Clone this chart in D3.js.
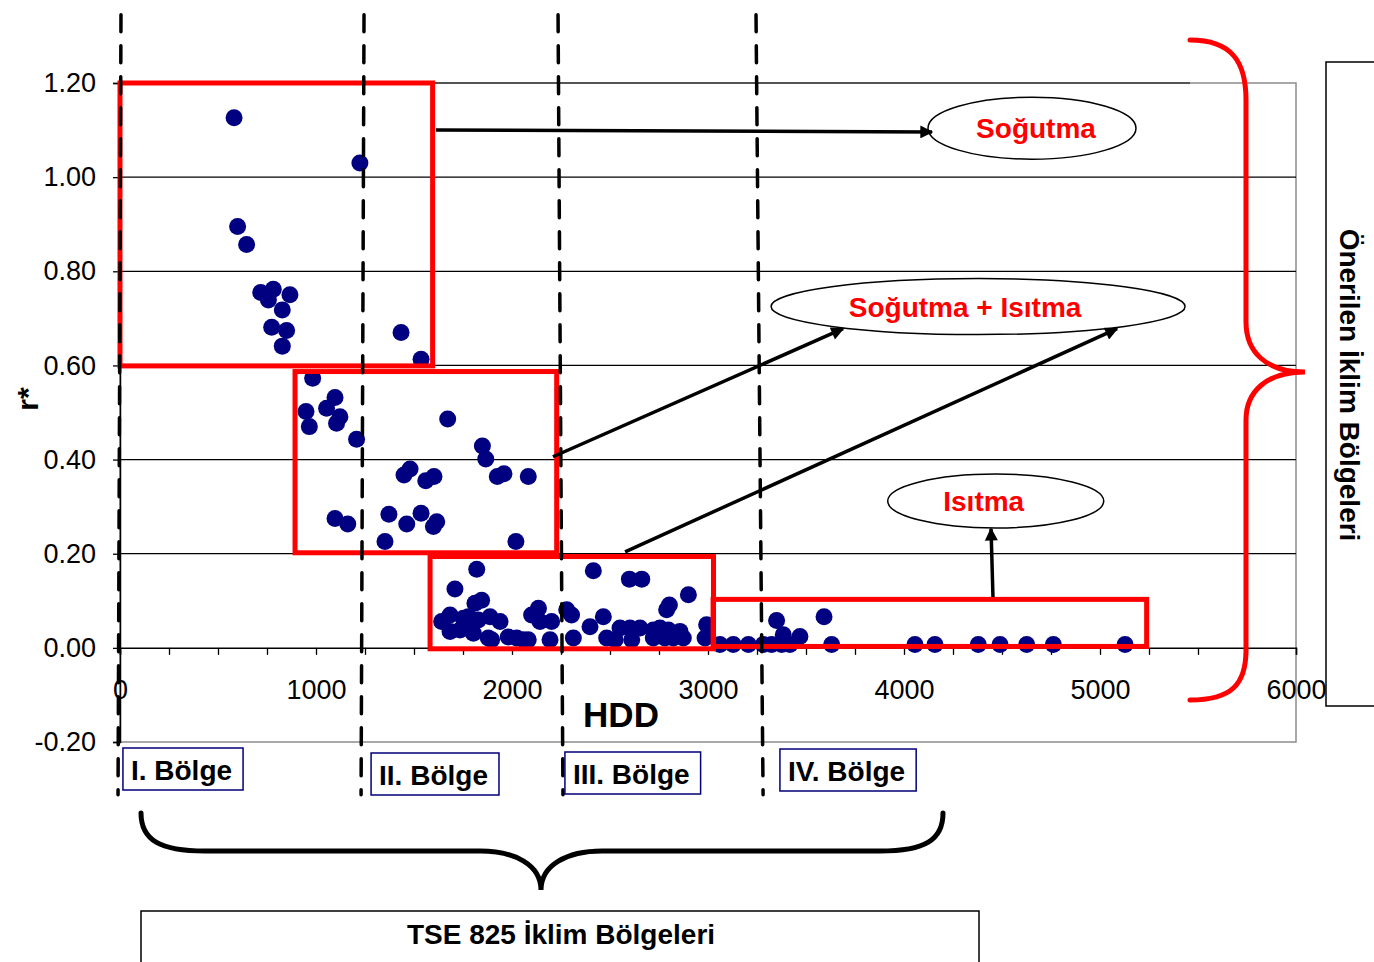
<!DOCTYPE html>
<html>
<head>
<meta charset="utf-8">
<script src="https://cdn.jsdelivr.net/npm/d3@7"></script>
<style>
  body { margin: 0; background: #fff; }
  svg { display: block; font-family: "Liberation Sans", Arial, sans-serif; }
</style>
</head>
<body>
<div id="chart"></div>
<script>
// ---- data (HDD, r*) ----
const hdd = [
  582, 1224, 600, 646, 718, 782, 757, 867, 828, 774, 850, 828, 1434, 1536,
  983, 1097, 949, 1054, 1122, 966, 1105, 1207, 1672, 1849, 1866, 1480, 1449, 1602, 1560, 1959, 1925, 2083,
  1097, 1162, 1372, 1463, 1536, 1616, 1599, 1352, 2020,
  1820, 1709, 2415, 2599, 2662, 2900, 2803, 2789, 1845, 1811,
  1684, 1641, 1684, 1752, 1786, 1828, 1888, 1939, 1879, 1981, 2058, 2100, 2135, 2143, 2202, 2194,
  2279, 2304, 2313, 2398, 2466, 2526, 2551, 2602, 2653, 2611, 2721, 2755, 2798, 2823, 2874, 2857, 2993, 2985,
  1777, 1803, 1735, 1896, 2024, 2083, 2483, 2721, 2780,
  3350, 3592, 3384, 3469,
  3061, 3129, 3206, 3282, 3325, 3376, 3418, 3631, 4056, 4158, 4379, 4490, 4626, 4762, 5128
];
const rStar = [
  1.126, 1.030, 0.895, 0.857, 0.755, 0.762, 0.739, 0.750, 0.718, 0.681, 0.674, 0.641, 0.670, 0.613,
  0.573, 0.532, 0.502, 0.509, 0.491, 0.470, 0.477, 0.443, 0.486, 0.429, 0.401, 0.380, 0.367, 0.364, 0.355, 0.370, 0.364, 0.364,
  0.275, 0.263, 0.284, 0.263, 0.286, 0.268, 0.258, 0.226, 0.226,
  0.167, 0.125, 0.164, 0.146, 0.146, 0.113, 0.091, 0.081, 0.101, 0.095,
  0.070, 0.056, 0.035, 0.063, 0.042, 0.059, 0.066, 0.056, 0.021, 0.023, 0.017, 0.070, 0.084, 0.056, 0.056, 0.017,
  0.081, 0.070, 0.021, 0.045, 0.066, 0.017, 0.042, 0.042, 0.042, 0.017, 0.038, 0.042, 0.038, 0.021, 0.021, 0.035, 0.049, 0.021,
  0.066, 0.031, 0.038, 0.017, 0.021, 0.017, 0.021, 0.021, 0.021,
  0.058, 0.066, 0.028, 0.024,
  0.007, 0.007, 0.007, 0.007, 0.007, 0.007, 0.007, 0.007, 0.007, 0.007, 0.007, 0.007, 0.007, 0.007, 0.007
];

const xTicks = [0, 1000, 2000, 3000, 4000, 5000, 6000];
const yTicks = [-0.2, 0, 0.2, 0.4, 0.6, 0.8, 1.0, 1.2];

// proposed zones (red boxes) in data units
const zoneBoxes = [
  { x0: 0,    x1: 1595, y0: 0.599,  y1: 1.2 },
  { x0: 893,  x1: 2228, y0: 0.202,  y1: 0.587 },
  { x0: 1582, x1: 3028, y0: -0.002, y1: 0.194 },
  { x0: 3026, x1: 5238, y0: 0.003,  y1: 0.103 }
];
// TSE 825 zone borders (dashed), top / bottom HDD
const borderTop = [5, 1245, 2235, 3245];
const borderBottom = [-10, 1230, 2260, 3281];
const borderYTop = 1.345, borderYBottom = -0.312;

const zoneNames = ["I. Bölge", "II. Bölge", "III. Bölge", "IV. Bölge"];
const zoneNameHDD = [15, 1281, 2270, 3367];

const bubbleNames = ["Soğutma", "Soğutma + Isıtma", "Isıtma"];
const bubbleHDD = [4653, 4378, 4468];
const bubbleR = [1.104, 0.725, 0.312];

// arrows [fromHDD, fromR, toHDD, toR]
const arrows = [
  [1612, 1.100, 4143, 1.096],
  [2209, 0.406, 3689, 0.678],
  [2577, 0.204, 5087, 0.678],
  [4454, 0.108, 4444, 0.253]
];

/*******************************/
/*    Append the containers    */
/*******************************/
const width = 1374, height = 962;
const svg = d3.select("#chart")
  .append("svg")
    .attr("width", width)
    .attr("height", height);

const xScale = d3.scaleLinear().domain([0, 6000]).range([120, 1296]);
const yScale = d3.scaleLinear().domain([-0.2, 1.2]).range([742, 83]);

svg.append("defs").append("marker")
    .attr("id", "head")
    .attr("viewBox", "0 0 10 10")
    .attr("refX", 9).attr("refY", 5)
    .attr("markerWidth", 18).attr("markerHeight", 13)
    .attr("markerUnits", "userSpaceOnUse")
    .attr("orient", "auto")
  .append("path")
    .attr("d", "M0,0 L10,5 L0,10 Z")
    .attr("fill", "#000");

/******************/
/* Grid and frame */
/******************/
svg.append("rect")
    .attr("x", xScale(0)).attr("y", yScale(1.2))
    .attr("width", xScale(6000) - xScale(0))
    .attr("height", yScale(-0.2) - yScale(1.2))
    .attr("fill", "none")
    .attr("stroke", "#8c8c8c")
    .attr("stroke-width", 1.5);

svg.append("g")
  .selectAll("line")
  .data(yTicks.filter(d => d > 0 && d < 1.2))
  .join("line")
    .attr("x1", xScale(0)).attr("x2", xScale(6000))
    .attr("y1", d => yScale(d)).attr("y2", d => yScale(d))
    .attr("stroke", "#000")
    .attr("stroke-width", 1.2);

// 1.20 line is black only as far as the plotted area
svg.append("line")
    .attr("x1", xScale(0)).attr("x2", 1190)
    .attr("y1", yScale(1.2)).attr("y2", yScale(1.2))
    .attr("stroke", "#000").attr("stroke-width", 1.2);

/***************/
/*    Axes     */
/***************/
const bottomAxis = d3.axisBottom(xScale)
  .tickValues(d3.range(0, 6001, 250))
  .tickSize(7)
  .tickPadding(25)
  .tickFormat(d => xTicks.includes(d) ? d : "");
svg.append("g")
    .attr("transform", `translate(0, ${yScale(0)})`)
    .call(bottomAxis)
    .call(g => g.select(".domain").attr("stroke-width", 1.5))
    .call(g => g.selectAll(".tick line").attr("stroke-width", 1.3))
    .call(g => g.selectAll("text").attr("font-size", 27).attr("fill", "#000")
      .attr("font-family", "Liberation Sans, Arial"));

const leftAxis = d3.axisLeft(yScale)
  .tickValues(yTicks)
  .tickSize(7)
  .tickPadding(17)
  .tickFormat(d => d.toFixed(2));
svg.append("g")
    .attr("transform", `translate(${xScale(0)}, 0)`)
    .call(leftAxis)
    .call(g => g.select(".domain").attr("stroke-width", 1.5))
    .call(g => g.selectAll(".tick line").attr("stroke-width", 1.3))
    .call(g => g.selectAll("text").attr("font-size", 27).attr("fill", "#000")
      .attr("font-family", "Liberation Sans, Arial"));

svg.append("text")
    .attr("transform", "translate(38, 399) rotate(-90)")
    .attr("text-anchor", "middle")
    .attr("font-size", 30).attr("font-weight", "bold")
    .text("r*");

svg.append("text")
    .attr("x", 621).attr("y", 727)
    .attr("text-anchor", "middle")
    .attr("font-size", 35).attr("font-weight", "bold")
    .text("HDD");

/**************/
/*   Points   */
/**************/
svg.append("g")
  .selectAll("circle")
  .data(d3.zip(hdd, rStar))
  .join("circle")
    .attr("cx", d => xScale(d[0]))
    .attr("cy", d => yScale(d[1]))
    .attr("r", 8.5)
    .attr("fill", "#000080");

/*********************/
/* Proposed zones    */
/*********************/
svg.append("g")
  .selectAll("rect")
  .data(zoneBoxes)
  .join("rect")
    .attr("x", d => xScale(d.x0))
    .attr("y", d => yScale(d.y1))
    .attr("width", d => xScale(d.x1) - xScale(d.x0))
    .attr("height", d => yScale(d.y0) - yScale(d.y1))
    .attr("fill", "none")
    .attr("stroke", "#ff0000")
    .attr("stroke-width", 5);

// TSE 825 borders
svg.append("g")
  .selectAll("line")
  .data(d3.zip(borderTop, borderBottom))
  .join("line")
    .attr("x1", d => xScale(d[0])).attr("y1", yScale(borderYTop))
    .attr("x2", d => xScale(d[1])).attr("y2", yScale(borderYBottom))
    .attr("stroke", "#000")
    .attr("stroke-width", 3.5)
    .attr("stroke-linecap", "round")
    .attr("stroke-dasharray", "17 14");

/***********************/
/* Bubbles and arrows  */
/***********************/
const bubbleSize = [[104, 31], [207, 28], [108, 27]];
const bubbleTextShift = [4, -13, -12];
const bubbles = svg.append("g")
  .selectAll("g")
  .data(bubbleNames)
  .join("g")
    .attr("transform", (d, i) => `translate(${xScale(bubbleHDD[i])}, ${yScale(bubbleR[i])})`);
bubbles.append("ellipse")
    .attr("rx", (d, i) => bubbleSize[i][0])
    .attr("ry", (d, i) => bubbleSize[i][1])
    .attr("fill", "#fff")
    .attr("stroke", "#000")
    .attr("stroke-width", 1.5);
bubbles.append("text")
    .attr("x", (d, i) => bubbleTextShift[i])
    .attr("text-anchor", "middle")
    .attr("dy", "0.36em")
    .attr("font-size", 28).attr("font-weight", "bold")
    .attr("fill", "#ff0000")
    .text(d => d);

svg.append("g")
  .selectAll("line")
  .data(arrows)
  .join("line")
    .attr("x1", d => xScale(d[0])).attr("y1", d => yScale(d[1]))
    .attr("x2", d => xScale(d[2])).attr("y2", d => yScale(d[3]))
    .attr("stroke", "#000")
    .attr("stroke-width", 3.5)
    .attr("marker-end", "url(#head)");

/***********************/
/* TSE zone labels     */
/***********************/
const labelTops = [748, 753, 752, 749];
zoneNames.forEach((name, i) => {
  const g = svg.append("g");
  const rect = g.append("rect");
  const t = g.append("text")
      .attr("x", xScale(zoneNameHDD[i]) + 8)
      .attr("y", labelTops[i] + 32)
      .attr("font-size", 28).attr("font-weight", "bold")
      .text(name);
  const w = t.node().getComputedTextLength();
  rect.attr("x", xScale(zoneNameHDD[i]))
      .attr("y", labelTops[i])
      .attr("width", w + 19)
      .attr("height", 42)
      .attr("fill", "#fff")
      .attr("stroke", "#00007a")
      .attr("stroke-width", 1.5);
});

/***********************/
/* Braces and boxes    */
/***********************/
svg.append("path")
    .attr("d", "M1190,40 C1232,40 1246,62 1246,100 L1246,322 C1246,352 1266,372 1305,372 C1266,372 1246,392 1246,420 L1246,650 C1246,684 1232,700 1190,700")
    .attr("fill", "none")
    .attr("stroke", "#ff0000")
    .attr("stroke-width", 5)
    .attr("stroke-linecap", "round");

svg.append("rect")
    .attr("x", 1326).attr("y", 62)
    .attr("width", 80).attr("height", 644)
    .attr("fill", "none").attr("stroke", "#000").attr("stroke-width", 1.5);
svg.append("text")
    .attr("transform", "translate(1340, 385) rotate(90)")
    .attr("text-anchor", "middle")
    .attr("font-size", 28).attr("font-weight", "bold")
    .text("Önerilen İklim Bölgeleri");

svg.append("path")
    .attr("d", "M141,813 C141,840 160,851 205,851 L480,851 C515,851 541,865 541,890 C541,865 567,851 602,851 L880,851 C925,851 943,840 943,813")
    .attr("fill", "none")
    .attr("stroke", "#000")
    .attr("stroke-width", 5)
    .attr("stroke-linecap", "round");

svg.append("rect")
    .attr("x", 141).attr("y", 911)
    .attr("width", 838).attr("height", 80)
    .attr("fill", "none").attr("stroke", "#000").attr("stroke-width", 1.5);
svg.append("text")
    .attr("x", 561).attr("y", 944)
    .attr("text-anchor", "middle")
    .attr("font-size", 28).attr("font-weight", "bold")
    .text("TSE 825 İklim Bölgeleri");
</script>
</body>
</html>
